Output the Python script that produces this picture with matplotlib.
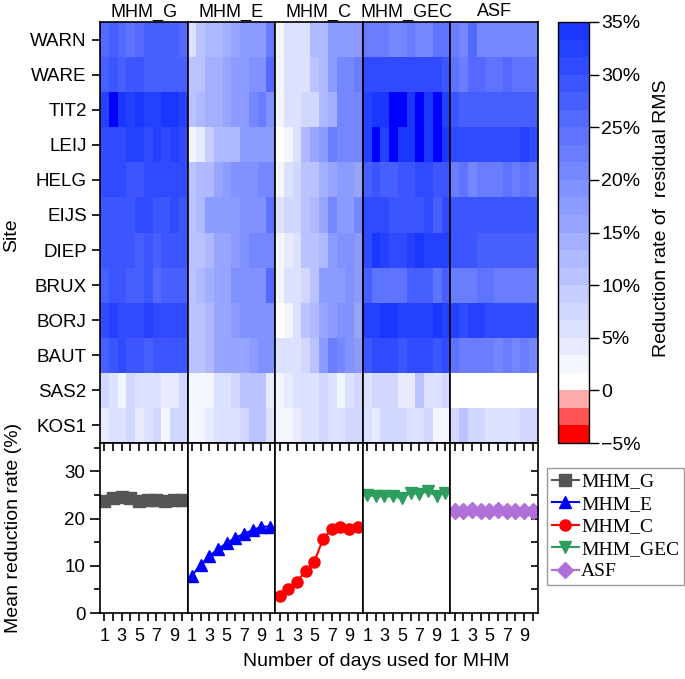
import numpy as np
import matplotlib
matplotlib.use('Agg')
import matplotlib.pyplot as plt
from matplotlib.colors import ListedColormap, BoundaryNorm
from matplotlib.ticker import FixedLocator

plt.rcParams['font.family'] = ['Liberation Sans', 'DejaVu Sans']

# data
sites = ['WARN', 'WARE', 'TIT2', 'LEIJ', 'HELG', 'EIJS', 'DIEP', 'BRUX', 'BORJ', 'BAUT', 'SAS2', 'KOS1']
methods = ['MHM_G', 'MHM_E', 'MHM_C', 'MHM_GEC', 'ASF']
days = np.arange(1, 11)

# reduction rate of residual RMS (%), rows = sites, cols = days 1..10
rr_g = [[26, 27, 25, 24, 26, 27, 27, 27, 27, 25],
        [28, 29, 28, 29, 29, 28, 28, 28, 28, 28],
        [33, 37, 34, 32, 34, 33, 33, 34, 34, 33],
        [31, 31, 31, 32, 33, 30, 33, 31, 33, 30],
        [30, 30, 31, 29, 29, 30, 30, 30, 30, 30],
        [29, 29, 29, 29, 30, 30, 29, 29, 30, 29],
        [29, 29, 29, 29, 27, 29, 27, 29, 29, 29],
        [28, 29, 29, 27, 27, 29, 25, 27, 28, 28],
        [31, 32, 30, 30, 31, 32, 30, 31, 30, 30],
        [28, 29, 30, 29, 29, 27, 29, 29, 29, 29],
        [7, 6, 3, 7, 6, 6, 6, 4, 4, 7],
        [4, 6, 6, 7, 4, 6, 7, 2, 7, 7]]

rr_e = [[6, 11, 12, 12, 14, 16, 18, 18, 18, 23],
        [10, 11, 14, 14, 16, 17, 17, 19, 19, 26],
        [10, 12, 14, 14, 16, 18, 18, 20, 22, 19],
        [2, 4, 9, 13, 13, 13, 18, 18, 18, 18],
        [10, 13, 13, 16, 18, 19, 19, 19, 20, 20],
        [10, 13, 17, 17, 18, 18, 19, 19, 19, 24],
        [10, 11, 12, 16, 16, 18, 19, 21, 21, 21],
        [10, 12, 14, 16, 16, 19, 19, 19, 19, 25],
        [10, 11, 13, 15, 16, 17, 19, 19, 19, 19],
        [10, 11, 12, 16, 16, 16, 16, 17, 19, 19],
        [3, 3, 3, 5, 6, 8, 10, 11, 11, 4],
        [2, 3, 4, 5, 6, 6, 8, 11, 11, 6]]

rr_c = [[2, 6, 6, 6, 12, 12, 17, 18, 18, 18],
        [2, 6, 6, 6, 10, 12, 18, 20, 21, 23],
        [2, 6, 6, 8, 8, 13, 14, 21, 21, 21],
        [0.5, 3, 6, 12, 16, 17, 23, 20, 21, 20],
        [2, 6, 7, 10, 11, 14, 16, 17, 18, 16],
        [5, 7, 8, 10, 12, 16, 20, 18, 18, 20],
        [3, 4, 6, 10, 10, 13, 18, 19, 19, 18],
        [3, 5, 6, 8, 10, 17, 17, 17, 19, 17],
        [1, 3, 6, 10, 13, 15, 17, 19, 19, 16],
        [5, 6, 6, 7, 10, 18, 22, 20, 19, 17],
        [3, 4, 6, 6, 6, 8, 6, 3, 5, 8],
        [3, 3, 4, 6, 6, 7, 6, 6, 8, 8]]

rr_gec = [[23, 23, 23, 21, 21, 23, 21, 21, 24, 24],
          [30, 31, 31, 30, 30, 30, 31, 31, 30, 29],
          [33, 34, 34, 37, 37, 34, 37, 34, 37, 33],
          [33, 37, 33, 37, 34, 34, 37, 34, 37, 34],
          [27, 29, 27, 28, 29, 29, 30, 30, 29, 29],
          [30, 31, 30, 29, 29, 29, 29, 30, 27, 30],
          [30, 34, 33, 30, 30, 32, 34, 32, 32, 33],
          [27, 24, 24, 24, 24, 27, 27, 27, 24, 27],
          [32, 33, 34, 34, 33, 33, 33, 33, 34, 33],
          [29, 30, 30, 30, 29, 30, 31, 30, 29, 30],
          [6, 7, 7, 7, 4, 4, 10, 6, 6, 8],
          [6, 4, 7, 7, 8, 6, 6, 7, 2, 2]]

rr_asf = [[22, 21, 26, 20, 20, 21, 21, 21, 21, 21],
          [24, 23, 26, 26, 24, 24, 26, 24, 24, 24],
          [29, 28, 28, 28, 28, 28, 28, 28, 28, 28],
          [31, 31, 30, 30, 31, 30, 31, 31, 32, 30],
          [22, 24, 20, 22, 22, 22, 24, 22, 24, 22],
          [29, 29, 29, 29, 29, 29, 29, 29, 29, 29],
          [29, 29, 29, 28, 28, 28, 28, 28, 28, 28],
          [23, 23, 23, 24, 24, 22, 22, 22, 22, 22],
          [32, 31, 32, 32, 31, 31, 31, 31, 31, 31],
          [24, 23, 22, 22, 22, 21, 22, 20, 22, 20],
          [0.5, 0.5, 0.5, 0.5, 0.5, 0.5, 0.5, 0.5, 0.5, 0.5],
          [7, 10, 7, 7, 5, 6, 6, 6, 7, 7]]

# mean reduction rate (%) per day
mean_g = [23.8, 24.3, 24.5, 24.4, 23.8, 23.9, 24.0, 23.8, 23.9, 24.0]
mean_e = [7.9, 10.2, 12.0, 13.5, 14.8, 15.9, 16.8, 17.5, 18.3, 18.3]
mean_c = [3.7, 5.1, 6.6, 8.9, 10.8, 15.6, 17.8, 18.2, 17.8, 18.2]
mean_gec = [25.0, 24.7, 24.7, 24.7, 24.3, 25.5, 25.2, 25.8, 24.7, 25.5]
mean_asf = [21.5, 21.7, 21.9, 21.5, 21.7, 21.9, 21.7, 21.5, 21.5, 21.5]

heat = [rr_g, rr_e, rr_c, rr_gec, rr_asf]
means = [mean_g, mean_e, mean_c, mean_gec, mean_asf]
styles = [('s', '#555555'), ('^', '#0000ff'), ('o', '#ff0000'), ('v', '#2e9e5e'), ('D', '#b070d8')]

# discrete colour scale, -5..35 in steps of 5/3
bounds = np.linspace(-5, 35, 25)
reds = [(1.0, 0.0, 0.0), (1.0, 0.33, 0.33), (1.0, 0.67, 0.67)]
top = np.array([25, 55, 255]) / 255.0
blues = [tuple(np.array([1.0, 1.0, 1.0]) * (1 - t) + top * t) for t in np.linspace(0, 1, 21)]
cmap = ListedColormap(reds + blues)
cmap.set_over((0.0, 0.0, 1.0))
norm = BoundaryNorm(bounds, cmap.N)

fig = plt.figure(figsize=(6.85, 6.79), dpi=100)

x0 = 100 / 685
w = 87.6 / 685
hb, hh = 1 - 443 / 679, 421 / 679
lb, lh = 1 - 613 / 679, 170 / 679

xe = np.arange(0.5, 11.0, 1.0)
ye = np.arange(-0.5, 12.0, 1.0)

for i in range(5):
    ax = fig.add_axes([x0 + i * w, hb, w, hh])
    mesh = ax.pcolormesh(xe, ye, np.array(heat[i]), cmap=cmap, norm=norm)
    ax.set_ylim(11.5, -0.5)
    ax.set_xlim(0.5, 10.5)
    ax.set_xticks([])
    ax.set_title(methods[i], fontsize=13, pad=4)
    for s in ax.spines.values():
        s.set_linewidth(1.2)
    if i == 0:
        ax.set_yticks(range(12))
        ax.set_yticklabels(sites, fontsize=13.5)
        ax.tick_params(axis='y', length=6, width=1.2)
    else:
        ax.set_yticks([])

cax = fig.add_axes([558 / 685, hb, 31 / 685, hh])
cb = fig.colorbar(mesh, cax=cax, boundaries=bounds, ticks=np.arange(-5, 36, 5))
cb.ax.set_yticklabels(['\u22125%', '0'] + ['%d%%' % v for v in range(5, 36, 5)], fontsize=14)
cb.ax.tick_params(length=7, width=1, pad=2)
cb.ax.minorticks_off()
cb.outline.set_linewidth(1)

handles = []
for i in range(5):
    ax = fig.add_axes([x0 + i * w, lb, w, lh])
    mk, col = styles[i]
    h, = ax.plot(days, means[i], marker=mk, color=col, ms=8, lw=1.5, label=methods[i])
    handles.append(h)
    ax.set_xlim(0.5, 10.6)
    ax.set_ylim(0, 36)
    ax.xaxis.set_major_locator(FixedLocator(days))
    ax.set_xticklabels([str(d) if d % 2 else '' for d in days], fontsize=13)
    ax.tick_params(axis='x', which='both', direction='out', length=6, width=1.2, top=True, pad=5)
    for s in ax.spines.values():
        s.set_linewidth(1.2)
    if i == 0:
        ax.set_yticks([0, 10, 20, 30])
        ax.set_yticks([5, 15, 25, 35], minor=True)
        ax.tick_params(axis='y', labelsize=13.5, length=7, width=1.2)
        ax.tick_params(axis='y', which='minor', length=4, width=1.2)
    elif i == 4:
        ax.set_yticks([5, 10, 15, 20, 25, 30])
        ax.tick_params(axis='y', left=False, right=True, direction='in', labelleft=False, length=5, width=1.2)
    else:
        ax.set_yticks([])
    # top ticks point inward
    for t in ax.xaxis.get_major_ticks():
        t.tick2line.set_marker(3)

fig.legend(handles=handles, loc='upper left', bbox_to_anchor=(547 / 685, 1 - 468 / 679),
           prop={'family': 'Liberation Serif', 'size': 14}, frameon=True, fancybox=False,
           edgecolor='#999999', framealpha=1, handlelength=1.4, handletextpad=0.1,
           labelspacing=0.25, borderpad=0.25, borderaxespad=0)

fig.text(12 / 685, 1 - 235 / 679, 'Site', rotation=90, ha='center', va='center', fontsize=14)
fig.text(14 / 685, 1 - 528 / 679, 'Mean reduction rate (%)', rotation=90, ha='center', va='center', fontsize=14)
fig.text(376 / 685, 1 - 662 / 679, 'Number of days used for MHM', ha='center', va='center', fontsize=14)
fig.text(661 / 685, 1 - 218 / 679, 'Reduction rate of  residual RMS', rotation=90, ha='center', va='center', fontsize=14)

plt.savefig('out.png', dpi=100)
